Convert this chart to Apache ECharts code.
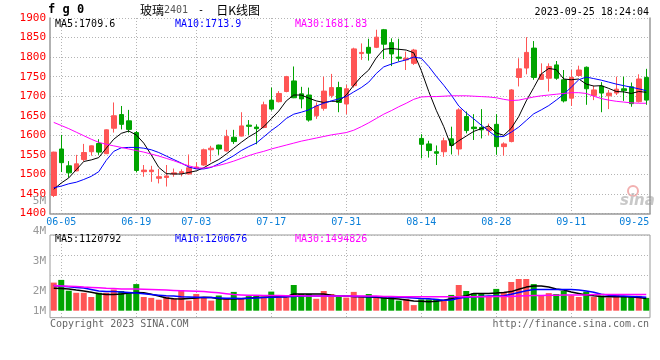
<!DOCTYPE html>
<html><head><meta charset="utf-8">
<script src="https://cdn.jsdelivr.net/npm/echarts@6/dist/echarts.min.js"></script>
<style>html,body{margin:0;padding:0;background:#fff}#c{width:660px;height:360px}</style>
</head><body><div id="c"></div>
<script>
// ---- categories (trading days) ----
const dates = ['06-02','06-05','06-06','06-07','06-08','06-09','06-12','06-13','06-14','06-15','06-16','06-19','06-20','06-21','06-26','06-27','06-28','06-29','06-30',
'07-03','07-04','07-05','07-06','07-07','07-10','07-11','07-12','07-13','07-14','07-17','07-18','07-19','07-20','07-21','07-24','07-25','07-26','07-27','07-28',
'07-31','08-01','08-02','08-03','08-04','08-07','08-08','08-09','08-10','08-11','08-14','08-15','08-16','08-17','08-18','08-21','08-22','08-23','08-24','08-25',
'08-28','08-29','08-30','08-31','09-01','09-04','09-05','09-06','09-07','09-08','09-11','09-12','09-13','09-14','09-15','09-18','09-19','09-20','09-21','09-22','09-25'];

// ---- daily K (price) ----
const open = [1446,1565,1522,1509,1538,1558,1579,1553,1618,1653,1637,1607,1507,1507,1490,1492,1501,1503,1501,1515,
1524,1563,1575,1560,1595,1598,1626,1621,1620,1690,1686,1712,1739,1706,1703,1650,1669,1702,1722,1680,
1727,1809,1825,1825,1870,1837,1800,1793,1784,1592,1578,1558,1558,1591,1565,1648,1621,1620,1612,1628,
1571,1584,1748,1772,1823,1743,1746,1780,1742,1695,1753,1774,1702,1726,1701,1708,1719,1724,1686,1748];
const close = [1557,1530,1504,1527,1556,1573,1557,1614,1650,1628,1615,1510,1511,1511,1494,1496,1504,1507,1517,1519,
1563,1567,1565,1597,1584,1624,1623,1617,1678,1667,1707,1750,1696,1693,1639,1675,1713,1722,1684,1719,
1821,1812,1810,1851,1833,1808,1797,1797,1818,1577,1561,1554,1586,1574,1665,1612,1617,1614,1619,1571,
1578,1716,1770,1812,1748,1756,1776,1746,1688,1748,1767,1719,1716,1708,1708,1718,1714,1681,1744,1690];
const high = [1558,1601,1534,1550,1578,1574,1590,1615,1684,1675,1665,1611,1524,1522,1514,1524,1515,1513,1551,1531,
1566,1573,1576,1614,1614,1659,1639,1628,1686,1722,1713,1752,1776,1724,1722,1684,1750,1757,1737,1729,
1824,1835,1847,1870,1872,1848,1847,1814,1821,1603,1586,1574,1594,1622,1669,1661,1654,1667,1630,1654,
1582,1718,1797,1851,1841,1784,1784,1790,1767,1767,1778,1776,1727,1736,1716,1750,1750,1735,1756,1770];
const low = [1442,1506,1492,1508,1533,1548,1550,1552,1607,1615,1607,1505,1494,1481,1477,1469,1494,1495,1500,1514,
1522,1533,1550,1558,1578,1597,1601,1577,1618,1663,1684,1710,1695,1669,1635,1642,1663,1696,1659,1654,
1722,1793,1791,1823,1795,1777,1789,1767,1780,1541,1543,1524,1545,1551,1550,1605,1588,1592,1600,1550,
1548,1582,1725,1756,1742,1742,1712,1742,1684,1675,1750,1678,1690,1659,1667,1703,1688,1673,1684,1678];

// ---- moving averages ----
const ma5 = [1462,1478,1491,1512,1533,1537,1543,1567,1590,1605,1611,1601,1580,1550,1518,1502,1501,1501,1505,1509,
1517,1528,1538,1552,1567,1582,1596,1607,1622,1642,1662,1688,1703,1703,1695,1688,1684,1687,1687,1703,
1728,1750,1767,1798,1820,1822,1820,1818,1811,1766,1712,1664,1622,1572,1586,1598,1610,1617,1624,1606,
1600,1618,1648,1688,1722,1757,1771,1768,1744,1742,1744,1731,1726,1727,1720,1712,1711,1707,1712,1710];
const ma10 = [1466,1470,1476,1480,1487,1495,1507,1536,1559,1568,1569,1569,1567,1563,1556,1547,1538,1529,1519,1514,
1514,1518,1527,1537,1548,1561,1571,1580,1596,1612,1626,1643,1654,1659,1665,1675,1682,1688,1693,1699,
1711,1722,1736,1758,1775,1782,1788,1793,1800,1797,1776,1751,1728,1703,1675,1657,1642,1626,1611,1596,
1597,1608,1621,1638,1655,1665,1676,1690,1705,1723,1742,1749,1745,1741,1736,1731,1727,1723,1719,1714];
const ma30 = [1633,1625,1617,1608,1599,1590,1582,1577,1573,1569,1565,1561,1557,1552,1547,1541,1535,1528,1522,1517,
1516,1519,1523,1528,1534,1541,1548,1554,1559,1565,1570,1575,1580,1585,1589,1593,1597,1601,1604,1607,
1613,1622,1632,1643,1654,1663,1673,1682,1692,1698,1699,1699,1700,1701,1701,1701,1700,1699,1698,1696,
1692,1689,1690,1694,1698,1701,1703,1705,1707,1709,1709,1707,1700,1694,1690,1687,1685,1683,1682,1682];

// ---- volume (millions, read against the 1M..5M scale) ----
const volume = [2.27,2.36,2.00,1.93,1.93,1.79,1.93,1.93,2.04,1.99,1.93,2.22,1.79,1.76,1.70,1.80,1.74,2.02,1.67,1.89,
1.76,1.67,1.84,1.73,1.96,1.73,1.82,1.84,1.80,1.97,1.78,1.80,2.19,1.89,1.89,1.73,1.99,1.89,1.80,1.77,
1.96,1.82,1.89,1.80,1.80,1.80,1.67,1.73,1.52,1.71,1.71,1.73,1.69,1.86,2.19,1.99,1.91,1.91,1.82,2.06,
1.96,2.29,2.39,2.39,2.22,1.84,1.92,1.89,1.99,1.84,1.79,1.97,1.79,1.84,1.77,1.89,1.81,1.81,1.83,1.76];
const volMa5 = [2.08,2.07,2.06,2.02,1.99,1.95,1.90,1.87,1.87,1.89,1.92,1.94,1.93,1.88,1.82,1.76,1.73,1.72,1.74,1.76,
1.78,1.77,1.73,1.72,1.72,1.73,1.75,1.77,1.78,1.79,1.80,1.80,1.89,1.89,1.89,1.89,1.89,1.85,1.82,1.82,
1.81,1.80,1.79,1.78,1.76,1.74,1.72,1.69,1.66,1.65,1.63,1.65,1.68,1.73,1.79,1.83,1.91,1.91,1.91,1.92,
1.94,1.97,2.05,2.12,2.16,2.16,2.12,2.06,2.02,1.96,1.91,1.86,1.83,1.81,1.80,1.80,1.80,1.79,1.77,1.74];
const volMa10 = [2.17,2.15,2.13,2.11,2.09,2.04,1.99,1.97,1.97,1.96,1.94,1.92,1.90,1.87,1.85,1.83,1.82,1.80,1.79,1.78,
1.77,1.77,1.76,1.75,1.75,1.74,1.75,1.76,1.77,1.78,1.79,1.80,1.81,1.82,1.82,1.82,1.82,1.82,1.82,1.82,
1.81,1.81,1.80,1.80,1.80,1.79,1.78,1.77,1.76,1.74,1.73,1.71,1.68,1.69,1.75,1.78,1.80,1.81,1.82,1.82,
1.83,1.88,1.94,2.00,2.04,2.04,2.04,2.04,2.04,2.04,2.02,1.99,1.95,1.88,1.85,1.83,1.82,1.81,1.80,1.78];
const volMa30 = [2.17,2.16,2.15,2.14,2.12,2.11,2.10,2.08,2.07,2.06,2.06,2.06,2.05,2.04,2.03,2.02,2.01,2.00,1.99,1.98,
1.97,1.95,1.93,1.90,1.87,1.86,1.85,1.85,1.84,1.84,1.84,1.83,1.83,1.83,1.82,1.82,1.82,1.82,1.82,1.82,
1.82,1.82,1.82,1.82,1.81,1.81,1.80,1.80,1.80,1.80,1.80,1.80,1.80,1.80,1.80,1.80,1.80,1.80,1.80,1.81,
1.81,1.81,1.82,1.83,1.84,1.84,1.85,1.85,1.86,1.86,1.86,1.86,1.87,1.87,1.87,1.87,1.87,1.87,1.87,1.87];

// ---- texts / ticks ----
const priceTicks = {min:1400, max:1900, step:50};
const volTicks = {min:1, max:5, step:1};
const labelDates = ['06-05','06-19','07-03','07-17','07-31','08-14','08-28','09-11','09-25'];
const gridDates = ['06-05','06-19','07-03','07-17','07-31','08-14','08-28','09-11'];
const priceLegend = ['MA5:1709.6','MA10:1713.9','MA30:1681.83'];
const volLegend = ['MA5:1120792','MA10:1200676','MA30:1494826'];
const symbolText = 'f g 0';
const titleName = '玻璃', titleCode = '2401', titleTail = '日K线图';
const stamp = '2023-09-25 18:24:04';

const MONO = 'DejaVu Sans Mono';
const RED = '#ff5555', GREEN = '#00a400';
const dotted = {color:'#b4b4b4', width:1, type:[1,2]};
const showLabel = (i) => labelDates.indexOf(dates[i]) >= 0;
const showGrid = (i) => gridDates.indexOf(dates[i]) >= 0;
const lineColors = ['#000000','#0000ff','#ff00ff'];

const kData = dates.map((d,i)=>[open[i], close[i], low[i], high[i]]);
const volData = volume.map((v,i)=>({value:v, itemStyle:{color: close[i] >= open[i] ? RED : GREEN}}));

function maLine(name, data, color, xi, yi, w) {
  return {name, type:'line', data, xAxisIndex:xi, yAxisIndex:yi, symbol:'none', silent:true,
    lineStyle:{color, width:w}, itemStyle:{color}, z:5};
}
function legendTexts(arr, y) {
  return arr.map((t,k)=>({type:'text', x:55 + k*120, y, silent:true,
    style:{text:t, fill:lineColors[k], font:'10px "' + MONO + '"', verticalAlign:'middle'}}));
}

const chart = echarts.init(document.getElementById('c'));
chart.setOption({
  animation:false,
  backgroundColor:'#ffffff',
  grid:[
    {left:50, top:18, width:600, height:195.5},
    {left:50, top:235, width:600, height:82.7, show:true, borderColor:'#999', borderWidth:1},
    {left:50, top:235, width:600, height:40},
    {left:50, top:235, width:600, height:75.7},
    {left:50, top:200.7, width:600, height:120}
  ],
  xAxis:[
    {gridIndex:0, type:'category', data:dates, boundaryGap:true,
      axisLine:{lineStyle:{color:'#999', width:1.5}}, axisTick:{show:false},
      axisLabel:{interval:(i)=>showLabel(i), color:'#0a7fd8', fontFamily:MONO, fontSize:10, margin:4,
        formatter:(v,i)=> i === dates.length-1 ? '{e|'+v+'}' : v,
        rich:{e:{padding:[0,24,0,0], color:'#0a7fd8', fontFamily:MONO, fontSize:10}}},
      splitLine:{show:true, interval:(i)=>showGrid(i), alignWithLabel:true, lineStyle:dotted}},
    {gridIndex:1, type:'category', data:dates, boundaryGap:true,
      axisLine:{show:false}, axisTick:{show:false}, axisLabel:{show:false},
      splitLine:{show:true, interval:(i)=>showGrid(i), alignWithLabel:true, lineStyle:dotted}},
    {gridIndex:2, type:'category', data:dates, show:false},
    {gridIndex:3, type:'category', data:dates, show:false},
    {gridIndex:4, type:'category', data:dates, show:false}
  ],
  yAxis:[
    {gridIndex:0, type:'value', min:priceTicks.min, max:priceTicks.max, interval:priceTicks.step,
      axisLine:{show:true, lineStyle:{color:'#999', width:1.5}}, axisTick:{show:false},
      axisLabel:{color:'#ff0000', fontFamily:MONO, fontSize:11, margin:4, formatter:(v)=>String(v)},
      splitLine:{show:true, lineStyle:dotted}},
    {gridIndex:0, type:'value', position:'right', min:priceTicks.min, max:priceTicks.max,
      axisLine:{show:true, lineStyle:{color:'#999', width:1.5}}, axisTick:{show:false}, axisLabel:{show:false}, splitLine:{show:false}},
    {gridIndex:1, type:'value', show:false, min:0, max:1},
    {gridIndex:2, type:'value', min:2, max:4, interval:1,
      axisLine:{show:false}, axisTick:{show:false}, axisLabel:{show:false}, splitLine:{show:true, lineStyle:dotted}},
    {gridIndex:3, type:'value', show:false, min:1.3333, max:3.8567},
    {gridIndex:4, type:'value', min:volTicks.min, max:volTicks.max, interval:volTicks.step,
      axisLine:{show:false}, axisTick:{show:false}, splitLine:{show:false},
      axisLabel:{color:'#999', fontFamily:MONO, fontSize:11, margin:4,
        formatter:(v)=> v === volTicks.min ? '{up|'+v+'M}' : v+'M',
        rich:{up:{padding:[0,0,20,0], color:'#999', fontFamily:MONO, fontSize:11}}}}
  ],
  series:[
    {type:'candlestick', xAxisIndex:0, yAxisIndex:0, data:kData, barWidth:5, silent:true,
      itemStyle:{color:RED, color0:GREEN, borderColor:RED, borderColor0:GREEN, borderWidth:1}},
    maLine('MA5', ma5, lineColors[0], 0, 0, 1),
    maLine('MA10', ma10, lineColors[1], 0, 0, 1),
    maLine('MA30', ma30, lineColors[2], 0, 0, 1),
    {type:'bar', xAxisIndex:3, yAxisIndex:4, data:volData, barWidth:6, silent:true, clip:true},
    maLine('VMA5', volMa5, lineColors[0], 3, 4, 1.5),
    maLine('VMA10', volMa10, lineColors[1], 3, 4, 1.5),
    maLine('VMA30', volMa30, lineColors[2], 3, 4, 1.5)
  ],
  graphic:[
    {type:'text', x:48, y:10, silent:true, style:{text:symbolText, font:'bold 12px "'+MONO+'"', fill:'#000', verticalAlign:'middle'}},
    {type:'text', x:140, y:10, silent:true, style:{
      text:'{a|'+titleName+'}{b|'+titleCode+'}{s| - }{a|'+titleTail+'}', verticalAlign:'middle',
      rich:{a:{font:'12px "Noto Sans CJK SC"', fill:'#000'}, b:{font:'10px "'+MONO+'"', fill:'#555'},
            s:{font:'10px "'+MONO+'"', fill:'#000', padding:[0,6,0,4]}}}},
    {type:'text', x:649, y:12, silent:true, style:{text:stamp, font:'10px "'+MONO+'"', fill:'#000', align:'right', verticalAlign:'middle'}},
    ...legendTexts(priceLegend, 24),
    ...legendTexts(volLegend, 239),
    {type:'text', x:50, y:324, silent:true, style:{text:'Copyright 2023 SINA.COM', font:'10px "'+MONO+'"', fill:'#666', verticalAlign:'middle'}},
    {type:'text', x:649, y:324, silent:true, style:{text:'http://finance.sina.com.cn', font:'10px "'+MONO+'"', fill:'#666', align:'right', verticalAlign:'middle'}},
    {type:'circle', shape:{cx:633, cy:191, r:5}, silent:true, style:{fill:'none', stroke:'#f2b0b0', lineWidth:2}},
    {type:'text', x:620, y:201, silent:true, style:{text:'sina', font:'italic bold 15px "DejaVu Sans"', fill:'#c8c8c8', verticalAlign:'middle'}}
  ]
});
</script>
</body></html>
